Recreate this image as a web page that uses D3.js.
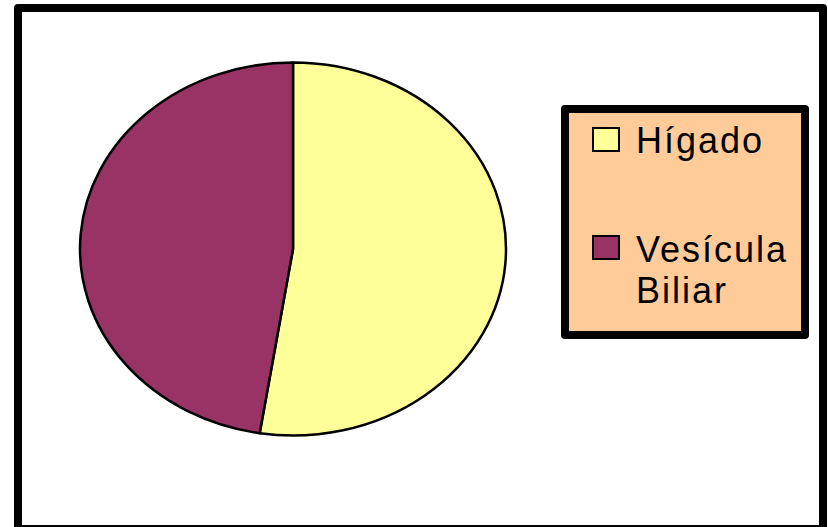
<!DOCTYPE html>
<html>
<head>
<meta charset="utf-8">
<script src="https://cdn.jsdelivr.net/npm/d3@7"></script>
<style>
  html, body { margin: 0; padding: 0; background: #fff; }
  svg { display: block; }
</style>
</head>
<body>
<svg id="chart" width="828" height="527"></svg>
<script>
// Data
const categories = ["Hígado", "Vesícula Biliar"];
const values = [52.5, 47.5];
const colors = ["#FFFF99", "#993366"];
const legendLines = [["Hígado"], ["Vesícula", "Biliar"]];

const svg = d3.select("#chart");

// Outer frame
svg.append("rect")
  .attr("x", 18).attr("y", 8)
  .attr("width", 805).attr("height", 521)
  .attr("fill", "#fff")
  .attr("stroke", "#000")
  .attr("stroke-width", 8)
  .attr("stroke-linejoin", "round");

// Pie (elliptical)
const cx = 293, cy = 249, rx = 213, ry = 186.5;
const pie = d3.pie().sort(null).value(d => d)(values);
const arc = d3.arc().innerRadius(0).outerRadius(ry);

const g = svg.append("g")
  .attr("transform", `translate(${cx},${cy}) scale(${rx / ry},1)`);

g.selectAll("path")
  .data(pie)
  .join("path")
  .attr("d", arc)
  .attr("fill", (d, i) => colors[i])
  .attr("stroke", "#000")
  .attr("stroke-width", 2.5)
  .attr("stroke-linejoin", "round")
  .attr("vector-effect", "non-scaling-stroke");

// Legend
const legend = svg.append("g");
legend.append("rect")
  .attr("x", 565).attr("y", 109)
  .attr("width", 240).attr("height", 226)
  .attr("fill", "#FFCC99")
  .attr("stroke", "#000")
  .attr("stroke-width", 8)
  .attr("stroke-linejoin", "round");

const itemY = [128, 236];
const baselines = [[153], [261.5, 303]];

categories.forEach((c, i) => {
  legend.append("rect")
    .attr("x", 593).attr("y", itemY[i])
    .attr("width", 26).attr("height", 23)
    .attr("fill", colors[i])
    .attr("stroke", "#000")
    .attr("stroke-width", 2);
  legendLines[i].forEach((line, j) => {
    legend.append("text")
      .attr("x", 636)
      .attr("y", baselines[i][j])
      .attr("font-family", "'Liberation Sans', Arial, sans-serif")
      .attr("font-size", 36)
      .attr("letter-spacing", 2)
      .attr("fill", "#000")
      .text(line);
  });
});
</script>
</body>
</html>
